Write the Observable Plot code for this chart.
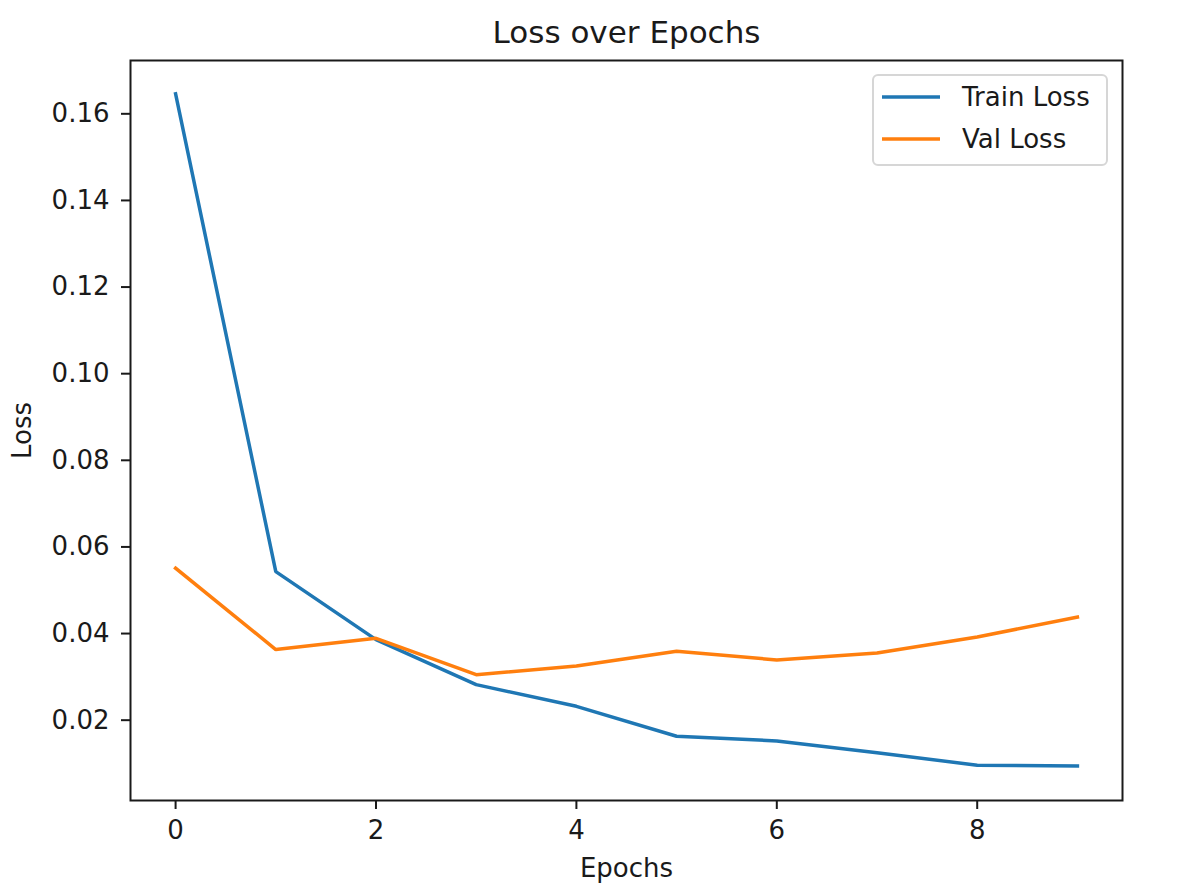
<!DOCTYPE html>
<html>
<head>
<meta charset="utf-8">
<script src="https://cdn.jsdelivr.net/npm/d3@7"></script>
<script src="https://cdn.jsdelivr.net/npm/@observablehq/plot@0.6"></script>
<style>
  html, body { margin: 0; padding: 0; background: #fff; }
  #wrap { position: relative; width: 1192px; height: 896px; font-family: "DejaVu Sans", sans-serif; }
  #legend { position: absolute; left: 872px; top: 74px; width: 232px; height: 88px;
            border: 2px solid #d6d6d6; border-radius: 6px; background: rgba(255,255,255,0.8); }
  .row { position: absolute; left: 0; height: 40px; display: flex; align-items: center; }
  .row span { font-size: 26px; color: #1a1a1a; margin-left: 22px; }
</style>
</head>
<body>
<div id="wrap"></div>
<script>
const title = "Loss over Epochs";
const xLabel = "Epochs";
const yLabel = "Loss";
const epochs = [0, 1, 2, 3, 4, 5, 6, 7, 8, 9];
const trainLoss = [0.1646, 0.0543, 0.0386, 0.0282, 0.0232, 0.0163, 0.0152, 0.0125, 0.0096, 0.0094];
const valLoss = [0.0551, 0.0363, 0.0389, 0.0305, 0.0325, 0.0359, 0.0339, 0.0355, 0.0392, 0.0438];
const seriesNames = ["Train Loss", "Val Loss"];
const seriesColors = ["#1f77b4", "#ff7f0e"];
const xTicks = [0, 2, 4, 6, 8];
const yTicks = [0.02, 0.04, 0.06, 0.08, 0.10, 0.12, 0.14, 0.16];

const rows = [];
epochs.forEach((e, i) => {
  rows.push({epoch: e, loss: trainLoss[i], series: seriesNames[0]});
});
epochs.forEach((e, i) => {
  rows.push({epoch: e, loss: valLoss[i], series: seriesNames[1]});
});

const chart = Plot.plot({
  width: 1192,
  height: 896,
  marginLeft: 130,
  marginRight: 70,
  marginTop: 60,
  marginBottom: 96,
  style: {fontFamily: "DejaVu Sans, sans-serif", fontSize: "26px", color: "#1a1a1a", background: "#fff"},
  x: {domain: [-0.45, 9.45], ticks: xTicks, tickFormat: d => String(d), label: null},
  y: {domain: [0.001454, 0.17231], ticks: yTicks, tickFormat: d3.format(".2f"), label: null},
  color: {domain: seriesNames, range: seriesColors},
  marks: [
    Plot.line(rows, {x: "epoch", y: "loss", z: "series", stroke: "series", strokeWidth: 3.5, strokeLinejoin: "miter", strokeLinecap: "square"}),
    Plot.frame({stroke: "#1a1a1a", strokeWidth: 2}),
    Plot.axisX({ticks: xTicks, tickFormat: d => String(d), tickSize: 9, tickPadding: 11, strokeWidth: 2, fontSize: 26, label: null}),
    Plot.axisY({ticks: yTicks, tickFormat: d3.format(".2f"), tickSize: 9, tickPadding: 12, strokeWidth: 2, fontSize: 26, label: null}),
    Plot.text([title], {frameAnchor: "top", lineAnchor: "middle", dy: -27, fontSize: 31, text: d => d, fill: "#1a1a1a"}),
    Plot.text([xLabel], {frameAnchor: "bottom", lineAnchor: "middle", dy: 68, fontSize: 26, text: d => d, fill: "#1a1a1a"}),
    Plot.text([yLabel], {frameAnchor: "left", lineAnchor: "middle", textAnchor: "middle", dx: -108, rotate: -90, fontSize: 26, text: d => d, fill: "#1a1a1a"})
  ]
});

const wrap = document.getElementById("wrap");
wrap.appendChild(chart);

const legend = document.createElement("div");
legend.id = "legend";
seriesNames.forEach((name, i) => {
  const row = document.createElement("div");
  row.className = "row";
  row.style.top = (1 + i * 42) + "px";
  row.style.left = "8px";
  const svg = d3.create("svg").attr("width", 58).attr("height", 8);
  svg.append("line").attr("x1", 0).attr("x2", 58).attr("y1", 4).attr("y2", 4)
     .attr("stroke", seriesColors[i]).attr("stroke-width", 3.5);
  row.appendChild(svg.node());
  const span = document.createElement("span");
  span.textContent = name;
  row.appendChild(span);
  legend.appendChild(row);
});
wrap.appendChild(legend);
</script>
</body>
</html>
